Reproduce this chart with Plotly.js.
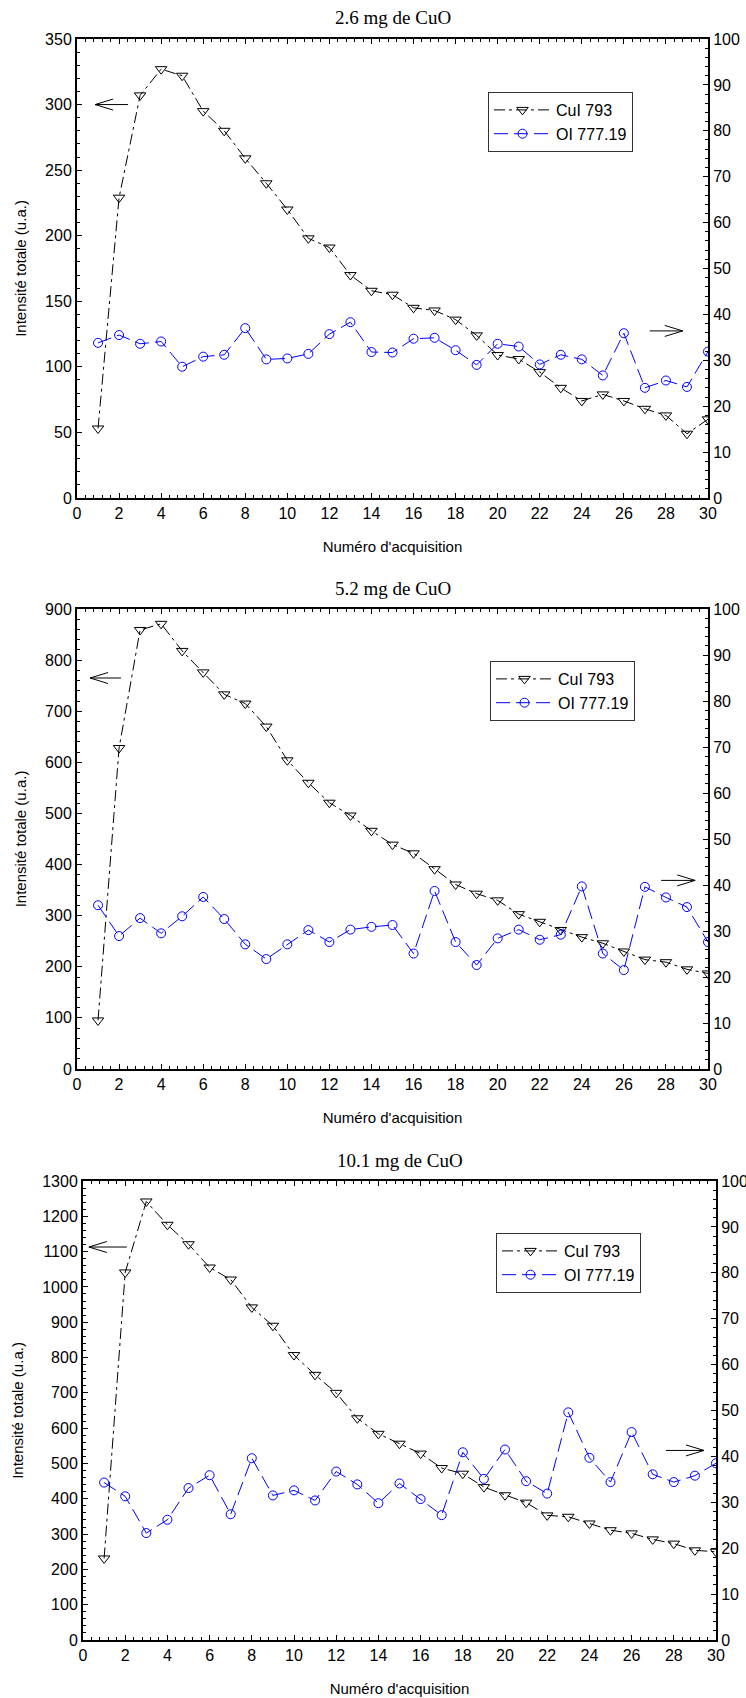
<!DOCTYPE html>
<html>
<head>
<meta charset="utf-8">
<script src="https://cdn.plot.ly/plotly-3.0.1.min.js"></script>
<style>
  html, body { margin: 0; padding: 0; background: #fff; }
  #chart { width: 746px; height: 1698px; }
</style>
</head>
<body>
<div id="chart"></div>
<script>
// ---- data ----
const acquisition = [1, 2, 3, 4, 5, 6, 7, 8, 9, 10, 11, 12, 13, 14, 15, 16, 17, 18, 19, 20, 21, 22, 23, 24, 25, 26, 27, 28, 29, 30];

const titles = ["2.6 mg de CuO", "5.2 mg de CuO", "10.1 mg de CuO"];
const seriesNames = ["CuI 793", "OI 777.19"];
const xTitle = "Numéro d'acquisition";
const yTitle = "Intensité totale (u.a.)";

// 2.6 mg de CuO
const cu_26 = [53, 229, 307, 327, 322, 295, 280, 259, 240, 220, 198, 191, 170, 158, 155, 145, 143, 136, 124, 109, 106, 96, 84, 74, 79, 74, 68, 63, 49, 60];
const o_26  = [33.8, 35.5, 33.6, 34.1, 28.6, 30.8, 31.2, 37.0, 30.2, 30.4, 31.4, 35.7, 38.3, 31.8, 31.7, 34.7, 34.9, 32.2, 29.0, 33.6, 33.0, 29.1, 31.2, 30.2, 26.7, 35.9, 24.0, 25.6, 24.2, 31.9];

// 5.2 mg de CuO
const cu_52 = [95, 628, 859, 871, 818, 776, 733, 715, 670, 604, 560, 521, 496, 466, 439, 422, 391, 361, 343, 330, 303, 288, 272, 258, 246, 230, 214, 209, 195, 187];
const o_52  = [35.6, 28.9, 32.8, 29.5, 33.2, 37.4, 32.6, 27.1, 23.9, 27.1, 30.2, 27.6, 30.3, 30.9, 31.3, 25.1, 38.7, 27.6, 22.6, 28.4, 30.3, 28.1, 29.2, 39.7, 25.1, 21.5, 39.6, 37.3, 35.2, 27.6];

// 10.1 mg de CuO
const cu_101 = [231, 1041, 1242, 1176, 1121, 1055, 1021, 942, 890, 807, 751, 700, 628, 584, 556, 528, 487, 471, 433, 410, 389, 353, 349, 330, 311, 302, 285, 273, 254, 250];
const o_101  = [34.3, 31.3, 23.3, 26.2, 33.1, 35.9, 27.4, 39.6, 31.5, 32.6, 30.4, 36.7, 33.9, 29.8, 34.1, 30.7, 27.2, 40.9, 35.1, 41.5, 34.6, 31.9, 49.6, 39.7, 34.4, 45.3, 36.1, 34.4, 35.8, 38.5];

const leftMax = [350, 900, 1300];
const leftDtick = [50, 100, 100];
const leftMinor = [10, 20, 20];

// ---- styling ----
const SANS = "Liberation Sans, Arial, sans-serif";
const SERIF = "Liberation Serif, Times New Roman, serif";
const H = 1698, W = 746;

const panels = [
  { cu: cu_26,  o: o_26,  xd: [77, 708], yd: [39, 498],   titleY: 18,   xa: 'x',  ya: 'y',  ya2: 'y2', leg: 'legend',  legPos: [488, 92] },
  { cu: cu_52,  o: o_52,  xd: [77, 708], yd: [609, 1069], titleY: 588,  xa: 'x2', ya: 'y3', ya2: 'y4', leg: 'legend2', legPos: [490, 661] },
  { cu: cu_101, o: o_101, xd: [83, 716], yd: [1181, 1640],titleY: 1160, xa: 'x3', ya: 'y5', ya2: 'y6', leg: 'legend3', legPos: [496, 1233] }
];

const traces = [];
const layout = {
  width: W, height: H,
  margin: { l: 0, r: 0, t: 0, b: 0 },
  paper_bgcolor: 'white', plot_bgcolor: 'white',
  font: { family: SANS, size: 16, color: 'black' },
  showlegend: true,
  annotations: [],
  shapes: []
};

const axName = id => id.replace('x', 'xaxis').replace('y', 'yaxis');

panels.forEach((p, i) => {
  const xDom = [p.xd[0] / W, p.xd[1] / W];
  const yDom = [1 - p.yd[1] / H, 1 - p.yd[0] / H];

  traces.push({
    type: 'scatter', mode: 'lines+markers', name: seriesNames[0],
    x: acquisition, y: p.cu, xaxis: p.xa, yaxis: p.ya, legend: p.leg,
    line: { color: 'black', width: 1, dash: '11px,4px,3px,4px' },
    marker: { symbol: 'triangle-down-open', size: 10, color: 'black', line: { width: 1, color: 'black' } }
  });
  traces.push({
    type: 'scatter', mode: 'lines+markers', name: seriesNames[1],
    x: acquisition, y: p.o, xaxis: p.xa, yaxis: p.ya2, legend: p.leg,
    line: { color: '#0000ff', width: 1, dash: '14px,6px' },
    marker: { symbol: 'circle-open', size: 9, color: '#0000ff', line: { width: 1, color: '#0000ff' } }
  });

  const tickCommon = {
    ticks: 'inside', ticklen: 5, tickwidth: 1, tickcolor: 'black',
    showline: true, linewidth: 2, linecolor: 'black',
    showgrid: false, zeroline: false,
    tickfont: { family: SANS, size: 16, color: 'black' }
  };

  layout[axName(p.xa)] = Object.assign({}, tickCommon, {
    domain: xDom, anchor: p.ya, range: [0, 30], tick0: 0, dtick: 2, mirror: 'ticks',
    minor: { ticks: 'inside', dtick: 0.4, ticklen: 3, tickwidth: 1, tickcolor: 'black' },
    title: { text: xTitle, font: { family: SANS, size: 15, color: 'black' }, standoff: 20 }
  });
  layout[axName(p.ya)] = Object.assign({}, tickCommon, {
    domain: yDom, anchor: p.xa, range: [0, leftMax[i]], tick0: 0, dtick: leftDtick[i],
    minor: { ticks: 'inside', dtick: leftMinor[i], ticklen: 3, tickwidth: 1, tickcolor: 'black' },
    title: { text: yTitle, font: { family: SANS, size: 15, color: 'black' }, standoff: 15 }
  });
  layout[axName(p.ya2)] = Object.assign({}, tickCommon, {
    overlaying: p.ya, side: 'right', anchor: p.xa, range: [0, 100], tick0: 0, dtick: 10,
    minor: { ticks: 'inside', dtick: 2, ticklen: 3, tickwidth: 1, tickcolor: 'black' }
  });

  layout[p.leg] = {
    x: p.legPos[0] / W, y: 1 - p.legPos[1] / H, xanchor: 'left', yanchor: 'top',
    xref: 'paper', yref: 'paper',
    bgcolor: 'white', bordercolor: '#333', borderwidth: 1,
    font: { family: SANS, size: 16, color: 'black' },
    itemwidth: 57, tracegroupgap: 0
  };

  layout.annotations.push({
    text: titles[i], xref: 'paper', yref: 'paper',
    x: (xDom[0] + xDom[1]) / 2, y: 1 - p.titleY / H, xanchor: 'center', yanchor: 'middle',
    showarrow: false, font: { family: SERIF, size: 19, color: 'black' }
  });
});

// pointer arrows (left one points to the left axis, right one to the right axis)
const arrows = [
  { xref: 'x',  yref: 'y',  x: 0.86,  y: 300,  dir: -1, len: 33 },
  { xref: 'x',  yref: 'y2', x: 28.8,  y: 36.4, dir: 1,  len: 33 },
  { xref: 'x2', yref: 'y3', x: 0.62,  y: 765,  dir: -1, len: 31 },
  { xref: 'x2', yref: 'y4', x: 29.39, y: 41.0, dir: 1,  len: 34 },
  { xref: 'x3', yref: 'y5', x: 0.28,  y: 1113, dir: -1, len: 38 },
  { xref: 'x3', yref: 'y6', x: 29.43, y: 41.3, dir: 1,  len: 38 }
];
arrows.forEach(a => {
  const s = -a.dir; // direction from tip toward tail
  layout.shapes.push({
    type: 'path', xref: a.xref, yref: a.yref,
    xsizemode: 'pixel', ysizemode: 'pixel', xanchor: a.x, yanchor: a.y,
    path: `M0,0 L${s * a.len},0 M${s * 18},5.5 L0,0 L${s * 18},-5.5`,
    line: { color: 'black', width: 1 }
  });
});

Plotly.newPlot('chart', traces, layout, { staticPlot: true, displayModeBar: false });
</script>
</body>
</html>
